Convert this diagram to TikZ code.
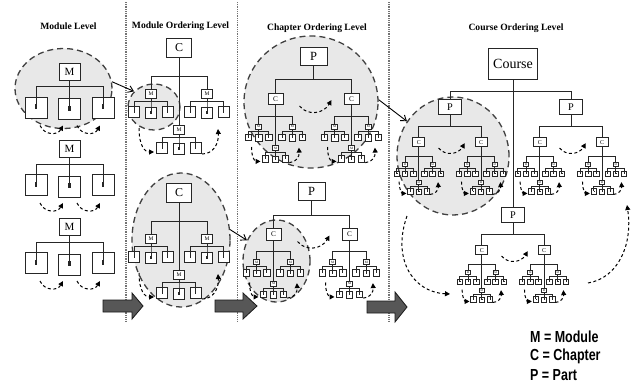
\documentclass[tikz,border=0pt]{standalone}
\usepackage{fontspec}
\setmainfont{Liberation Serif}
\newfontfamily\legendfont{Liberation Sans}
\usepackage{graphicx}
\usetikzlibrary{arrows.meta,shapes.geometric}

\tikzset{
  tl/.style={draw=black!85, line width=1pt},
  bx/.style={draw=black!85, fill=white, line width=1pt, inner sep=0pt, rectangle},
  mbox/.style={bx, minimum width=21pt, minimum height=17pt, font=\fontsize{11}{11}\selectfont},
  leaf/.style={bx, minimum width=22pt, minimum height=21pt},
  cbox/.style={bx, minimum width=25pt, minimum height=18.5pt, font=\fontsize{12}{12}\selectfont},
  pbox/.style={bx, minimum width=27pt, minimum height=18pt, font=\fontsize{12.5}{12}\selectfont},
  crsbox/.style={bx, minimum width=49pt, minimum height=31pt, font=\fontsize{14}{14}\selectfont},
  darc/.style={draw=black, line width=1pt, dash pattern=on 3pt off 2.5pt, -{Triangle[length=5pt,width=5pt]}},
  grayell/.style={ellipse, draw=black!75, fill=black!9, line width=1.3pt, dash pattern=on 6pt off 4pt, inner sep=0pt},
  link/.style={draw=black, line width=0.9pt, -{Straight Barb[length=5pt,width=7pt]}},
  divider/.style={draw=black!55, line width=1.8pt, dash pattern=on 0.9pt off 0.9pt},
  fat/.style={fill=black!66, draw=black!90, line width=0.8pt},
  heading/.style={font=\bfseries\fontsize{9.6}{11}\selectfont, inner sep=0pt},
  legend/.style={font=\legendfont\bfseries\fontsize{16}{16}\selectfont, inner sep=0pt, anchor=west},
}

% module tree: name, x, y, scale, arcs(1/0)
\newcommand{\modtree}[5]{%
  \begin{scope}[shift={(#2,#3)}, scale=#4, every node/.append style={transform shape}]
    \node[mbox] (#1) at (0,0) {M};
    \node[leaf] (#1-1) at (-33.5,36) {};
    \node[leaf] (#1-2) at (0,37.5) {};
    \node[leaf] (#1-3) at (33.5,36) {};
    \foreach \k in {1,2,3}{%
      \draw[tl] (#1.south) -- ++(0,6) -| (#1-\k.center);
      \fill[black!85] (#1-\k.center) ++(-1.3,1.5) rectangle ++(2.6,-5);
    }
    \ifnum#5=1
      \draw[darc] (-29.5,54) .. controls (-25,64) and (-12,64) .. (-6.5,54);
      \draw[darc] (7.5,54) .. controls (12,64) and (25,64) .. (30.5,54);
    \fi
  \end{scope}}

% chapter tree: name, x, y, scale
\newcommand{\chaptree}[4]{%
  \begin{scope}[shift={(#2,#3)}, scale=#4, every node/.append style={transform shape}]
    \node[cbox] (#1) at (0,0) {C};
    \modtree{#1a}{-28}{46}{0.5}{0}
    \modtree{#1b}{28}{46}{0.5}{0}
    \modtree{#1c}{0}{82}{0.5}{0}
    \draw[tl] (#1.south) -- ++(0,18.75) -| (#1a.north);
    \draw[tl] (#1.south) -- ++(0,18.75) -| (#1b.north);
    \draw[tl] (#1.south) -- (#1c.north);
    \draw[darc] (-40,80) .. controls (-40,98) and (-34,104) .. (-25,104);
    \draw[darc] (23,106) .. controls (34,106) and (40,96) .. (39,81);
  \end{scope}}

% part tree: name, x, y, scale
\newcommand{\parttree}[4]{%
  \begin{scope}[shift={(#2,#3)}, scale=#4, every node/.append style={transform shape}]
    \node[pbox] (#1) at (0,0) {P};
    \chaptree{#1a}{-38}{43}{0.6}
    \chaptree{#1b}{38}{43}{0.6}
    \draw[tl] (#1.south) -- ++(0,14) -| (#1a.north);
    \draw[tl] (#1.south) -- ++(0,14) -| (#1b.north);
    \draw[darc] (-14,50) .. controls (-6,60) and (10,58) .. (18,44);
  \end{scope}}

\begin{document}
\begin{tikzpicture}[x=1pt,y=-1pt]
\useasboundingbox (0,0) rectangle (636,383);
\fill[white] (0,0) rectangle (636,383);

% grey ellipses
\node[grayell, minimum width=97pt, minimum height=80pt] (e1) at (63.5,88.5) {};
\node[grayell, minimum width=52pt, minimum height=46pt] (e2) at (154,107) {};
\node[grayell, minimum width=98pt, minimum height=134pt] (e3) at (181,240) {};
\node[grayell, minimum width=134pt, minimum height=132pt] (e4) at (311,102) {};
\node[grayell, minimum width=67pt, minimum height=82pt] (e5) at (276.5,261) {};
\node[grayell, minimum width=112pt, minimum height=118pt] (e6) at (453,156) {};

% dividers
\draw[divider] (126,2) -- (126,322);
\draw[divider] (237.5,2) -- (237.5,322);
\draw[divider] (389,2) -- (389,322);

% headings
\node[heading] (h1) at (68.5,26) {Module Level};
\node[heading] (h2) at (180.5,26) {Module Ordering Level};
\node[heading] (h3) at (317,28) {Chapter Ordering Level};
\node[heading] (h4) at (516,28) {Course Ordering Level};

% module level
\modtree{mla}{69.5}{71.5}{1}{1}
\modtree{mlb}{69.5}{149}{1}{1}
\modtree{mlc}{69.5}{227}{1}{1}

% module ordering level
\chaptree{moa}{179}{48}{1}
\chaptree{mob}{179}{193}{1}

% chapter ordering level
\parttree{cha}{313.5}{56}{1}
\parttree{chb}{311.5}{191.5}{1}

% course ordering level
\node[crsbox] (crs) at (513,64) {Course};
\parttree{crsa}{450}{107}{0.82}
\parttree{crsb}{571}{107}{0.82}
\parttree{crsc}{513}{215}{0.82}
\draw[tl] (crs.south) -- ++(0,11.5) -| (crsa.north);
\draw[tl] (crs.south) -- ++(0,11.5) -| (crsb.north);
\draw[tl] (crs.south) -- (crsc.north);
\draw[darc] (407,216) .. controls (392,258) and (412,292) .. (450,294);
\draw[darc] (588,283) .. controls (618,278) and (633,245) .. (627,205);

% links between levels
\draw[link] (e1.8) -- (e2.142);
\draw[link] (e3.12) -- (e5.145);
\draw[link] (e4.2) -- (e6.143);

% fat arrows
\filldraw[fat] (103,300) -- (132,300) -- (132,293) -- (143,306) -- (132,319) -- (132,312) -- (103,312) -- cycle;
\filldraw[fat] (215,300) -- (243,300) -- (243,293) -- (257,306) -- (243,319) -- (243,312) -- (215,312) -- cycle;
\filldraw[fat] (367,301) -- (395,301) -- (395,292) -- (407,307) -- (395,322) -- (395,313) -- (367,313) -- cycle;

% legend
\node[legend] (lm) at (530,337) {\scalebox{0.78}[1]{M = Module}};
\node[legend] (lc) at (530,356) {\scalebox{0.78}[1]{C = Chapter}};
\node[legend] (lp) at (530,375) {\scalebox{0.78}[1]{P = Part}};
\end{tikzpicture}
\end{document}
